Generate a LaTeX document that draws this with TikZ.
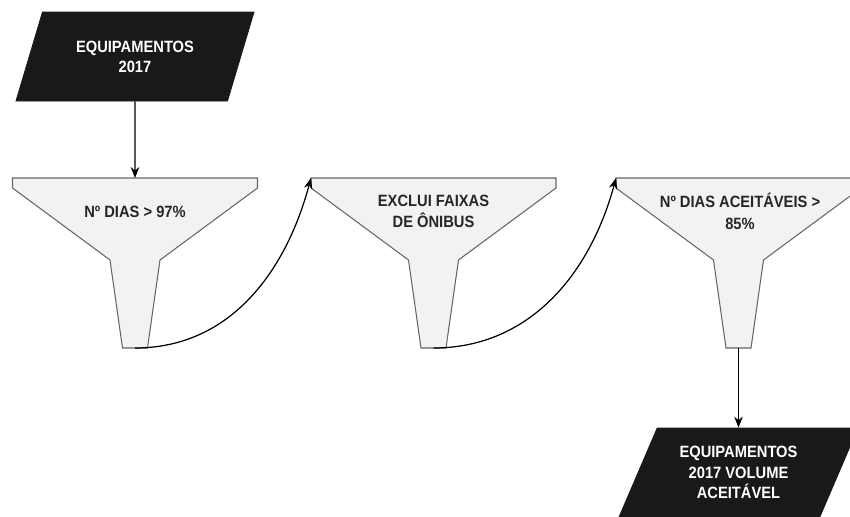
\documentclass[tikz,border=0pt]{standalone}
\usepackage{fontspec}
\setmainfont{Liberation Sans}[FakeStretch=0.9]
\usetikzlibrary{shapes.geometric, arrows.meta, positioning}

\tikzset{
    dado/.style={trapezium, trapezium left angle=62, trapezium right angle=118,
        trapezium stretches=true, minimum width=4.8cm, minimum height=1.78cm,
        inner sep=0pt, fill=black!90, draw=black!90, text=white, align=center,
        font=\bfseries\fontsize{9.3}{11.5}\selectfont},
    funil/.style={draw=black!60, fill=black!5, line width=0.6pt},
    rotulo/.style={text=black!85, align=center, font=\bfseries\fontsize{9.3}{12.3}\selectfont},
    seta/.style={-{Stealth[length=2.2mm, width=1.7mm]}, line width=0.7pt},
}

\begin{document}
\begin{tikzpicture}
    \useasboundingbox (0,0) rectangle (17,10.32);
    \clip (0,0) rectangle (17,10.32);

    % Input data
    \node[dado] (entrada) at (2.7,9.19) {EQUIPAMENTOS\\2017};

    % Funnels (filters)
    \foreach \x/\nome in {2.7/f1, 8.67/f2, 14.77/f3} {
        \begin{scope}[shift={(\x,6.76)}]
            \draw[funil] (-2.45,0) -- (2.45,0) -- (2.45,-0.2) -- (0.5,-1.64)
                -- (0.25,-3.4) -- (-0.25,-3.4) -- (-0.5,-1.64) -- (-2.45,-0.2) -- cycle;
            \coordinate (\nome-topo) at (0,0);
            \coordinate (\nome-canto) at (-2.45,0);
            \coordinate (\nome-bico) at (0,-3.4);
        \end{scope}
    }

    % Filter criteria
    \node[rotulo] (filtro1) at (2.7,6.08) {Nº DIAS > 97\%};
    \node[rotulo] (filtro2) at (8.67,6.09) {EXCLUI FAIXAS\\DE ÔNIBUS};
    \node[rotulo] (filtro3) at (14.8,6.09) {Nº DIAS ACEITÁVEIS >\\85\%};

    % Output data
    \node[dado] (saida) at (14.77,0.87) {EQUIPAMENTOS\\2017 VOLUME\\ACEITÁVEL};

    % Flow
    \draw[seta] (entrada.south) -- (f1-topo);
    \draw[seta] (f1-bico) to[out=0, in=-105] (f2-canto);
    \draw[seta] (f2-bico) to[out=0, in=-105] (f3-canto);
    \draw[seta] (f3-bico) -- (saida.north);
\end{tikzpicture}
\end{document}
